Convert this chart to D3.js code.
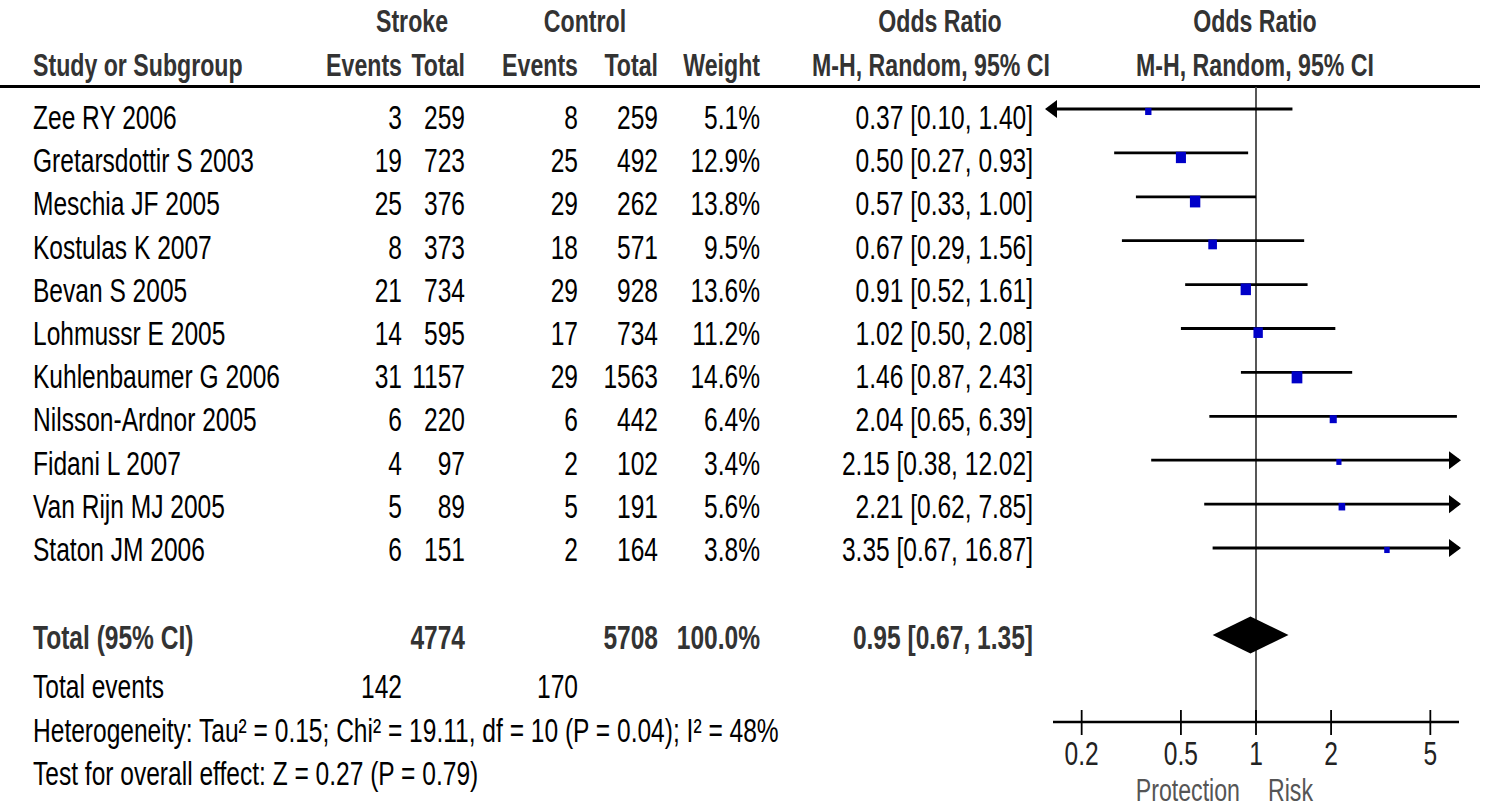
<!DOCTYPE html>
<html>
<head>
<meta charset="utf-8">
<script src="https://cdn.jsdelivr.net/npm/d3@7"></script>
<style>
  body { margin: 0; background: #fff; }
  svg { display: block; }
  text { font-family: "Liberation Sans Narrow", "Arial Narrow", "Liberation Sans", Arial, sans-serif; font-size: 29.7px; fill: #000; }
  .hdr { font-weight: bold; fill: #333; font-size: 28px; }
  .bold { font-weight: bold; fill: #333; }
  .tick { fill: #222; }
  .note { fill: #555; font-size: 28px; }
</style>
</head>
<body>
<div id="chart"></div>
<script>
// Study data
var studies = ["Zee RY 2006", "Gretarsdottir S 2003", "Meschia JF 2005", "Kostulas K 2007", "Bevan S 2005",
               "Lohmussr E 2005", "Kuhlenbaumer G 2006", "Nilsson-Ardnor 2005", "Fidani L 2007",
               "Van Rijn MJ 2005", "Staton JM 2006"];
var strokeEvents  = [3, 19, 25, 8, 21, 14, 31, 6, 4, 5, 6];
var strokeTotal   = [259, 723, 376, 373, 734, 595, 1157, 220, 97, 89, 151];
var controlEvents = [8, 25, 29, 18, 29, 17, 29, 6, 2, 5, 2];
var controlTotal  = [259, 492, 262, 571, 928, 734, 1563, 442, 102, 191, 164];
var weights       = [5.1, 12.9, 13.8, 9.5, 13.6, 11.2, 14.6, 6.4, 3.4, 5.6, 3.8];
var oddsRatio     = [0.37, 0.50, 0.57, 0.67, 0.91, 1.02, 1.46, 2.04, 2.15, 2.21, 3.35];
var ciLow         = [0.10, 0.27, 0.33, 0.29, 0.52, 0.50, 0.87, 0.65, 0.38, 0.62, 0.67];
var ciHigh        = [1.40, 0.93, 1.00, 1.56, 1.61, 2.08, 2.43, 6.39, 12.02, 7.85, 16.87];

// Pooled result
var totalStroke = 4774, totalControl = 5708, totalWeight = 100.0;
var pooled = [0.95, 0.67, 1.35];
var eventsStroke = 142, eventsControl = 170;
var heterogeneityText = "Heterogeneity: Tau\u00b2 = 0.15; Chi\u00b2 = 19.11, df = 10 (P = 0.04); I\u00b2 = 48%";
var overallText = "Test for overall effect: Z = 0.27 (P = 0.79)";

var tickValues = [0.2, 0.5, 1, 2, 5];

// the picture is stretched a bit vertically, so draw in a squashed viewBox
var SY = 1.13;
var width = 1487, height = 807;
function Y(v) { return v / SY; }

var svg = d3.select("#chart").append("svg")
    .attr("width", width)
    .attr("height", height)
    .attr("viewBox", "0 0 " + width + " " + (height / SY))
    .attr("preserveAspectRatio", "none");

// measure the font so text widths match the narrow original
var probe = svg.append("text").text("Gretarsdottir S 2003");
var FX = 221 / probe.node().getComputedTextLength();
probe.remove();

function txt(g, x, y, s, anchor, cls) {
    return g.append("text")
        .attr("transform", "translate(" + x + "," + y + ") scale(" + FX + ",1)")
        .attr("text-anchor", anchor || "start")
        .attr("class", cls || null)
        .text(s);
}

var f2 = d3.format(".2f");
var f1 = d3.format(".1f");
function ciText(o, l, h) { return f2(o) + " [" + f2(l) + ", " + f2(h) + "]"; }

// scales
var x = d3.scaleLog().domain([1 / 6.515, 6.515]).range([1053, 1459]);
var row = d3.scaleLinear().domain([0, studies.length - 1]).range([Y(109), Y(548)]);
var rowText = d3.scaleLinear().domain([0, studies.length - 1]).range([Y(129), Y(561)]);

// header
var hdr = svg.append("g");
txt(hdr, 412, Y(32), "Stroke", "middle", "hdr");
txt(hdr, 585, Y(32), "Control", "middle", "hdr");
txt(hdr, 940, Y(32), "Odds Ratio", "middle", "hdr");
txt(hdr, 1255, Y(32), "Odds Ratio", "middle", "hdr");
txt(hdr, 33, Y(76), "Study or Subgroup", "start", "hdr");
txt(hdr, 402, Y(76), "Events", "end", "hdr");
txt(hdr, 465, Y(76), "Total", "end", "hdr");
txt(hdr, 578, Y(76), "Events", "end", "hdr");
txt(hdr, 658, Y(76), "Total", "end", "hdr");
txt(hdr, 760, Y(76), "Weight", "end", "hdr");
txt(hdr, 931, Y(76), "M-H, Random, 95% CI", "middle", "hdr");
txt(hdr, 1255, Y(76), "M-H, Random, 95% CI", "middle", "hdr");

svg.append("line")
    .attr("x1", 0).attr("x2", 1480)
    .attr("y1", Y(86.5)).attr("y2", Y(86.5))
    .attr("stroke", "#000").attr("stroke-width", 2.6);

// line of no effect
svg.append("line")
    .attr("x1", x(1)).attr("x2", x(1))
    .attr("y1", Y(87)).attr("y2", Y(722))
    .attr("stroke", "#444").attr("stroke-width", 1.8);

// table rows
var rows = svg.append("g").selectAll("g")
    .data(studies)
    .enter().append("g");

rows.each(function(d, i) {
    var g = d3.select(this);
    var ty = rowText(i);
    txt(g, 33, ty, d, "start");
    txt(g, 402, ty, strokeEvents[i], "end");
    txt(g, 465, ty, strokeTotal[i], "end");
    txt(g, 578, ty, controlEvents[i], "end");
    txt(g, 658, ty, controlTotal[i], "end");
    txt(g, 760, ty, f1(weights[i]) + "%", "end");
    txt(g, 1033, ty, ciText(oddsRatio[i], ciLow[i], ciHigh[i]), "end");
});

// confidence intervals, clipped to the axis with arrows
var lo = x.domain()[0], hi = x.domain()[1];
var ci = svg.append("g");
studies.forEach(function(d, i) {
    var y = row(i);
    var a = x(Math.max(ciLow[i], lo)), b = x(Math.min(ciHigh[i], hi));
    ci.append("line")
        .attr("x1", a).attr("x2", b)
        .attr("y1", y).attr("y2", y)
        .attr("stroke", "#000").attr("stroke-width", 2.5);
    if (ciLow[i] < lo) {
        ci.append("path")
            .attr("d", "M" + (a - 8) + "," + y + "L" + (a + 4) + "," + (y - 8) + "L" + (a + 4) + "," + (y + 8) + "Z")
            .attr("fill", "#000");
    }
    if (ciHigh[i] > hi) {
        ci.append("path")
            .attr("d", "M" + (b + 2) + "," + y + "L" + (b - 10) + "," + (y - 8) + "L" + (b - 10) + "," + (y + 8) + "Z")
            .attr("fill", "#000");
    }
});

// weight squares
var side = function(i) { return 2.8 * Math.sqrt(weights[i]); };
svg.append("g").selectAll("rect")
    .data(studies)
    .enter().append("rect")
    .attr("width", function(d, i) { return side(i); })
    .attr("height", function(d, i) { return side(i); })
    .attr("x", function(d, i) { return x(oddsRatio[i]) - side(i) / 2; })
    .attr("y", function(d, i) { return row(i) - 1; })
    .attr("fill", "#0000c8");

// totals
var tot = svg.append("g");
txt(tot, 33, Y(649), "Total (95% CI)", "start", "bold");
txt(tot, 465, Y(649), totalStroke, "end", "bold");
txt(tot, 658, Y(649), totalControl, "end", "bold");
txt(tot, 760, Y(649), f1(totalWeight) + "%", "end", "bold");
txt(tot, 1033, Y(649), ciText(pooled[0], pooled[1], pooled[2]), "end", "bold");

var dy = Y(635), dh = Y(18.5);
svg.append("path")
    .attr("d", "M" + x(pooled[1]) + "," + dy + "L" + x(pooled[0]) + "," + (dy - dh) +
               "L" + x(pooled[2]) + "," + dy + "L" + x(pooled[0]) + "," + (dy + dh) + "Z")
    .attr("fill", "#000");

txt(tot, 33, Y(698), "Total events", "start");
txt(tot, 402, Y(698), eventsStroke, "end");
txt(tot, 578, Y(698), eventsControl, "end");
txt(tot, 33, Y(742), heterogeneityText, "start");
txt(tot, 33, Y(785), overallText, "start");

// axis
var ax = svg.append("g");
ax.append("line")
    .attr("x1", x.range()[0]).attr("x2", x.range()[1])
    .attr("y1", Y(722)).attr("y2", Y(722))
    .attr("stroke", "#000").attr("stroke-width", 2.4);
tickValues.forEach(function(t) {
    ax.append("line")
        .attr("x1", x(t)).attr("x2", x(t))
        .attr("y1", Y(710)).attr("y2", Y(735))
        .attr("stroke", "#000").attr("stroke-width", 1.8);
    txt(ax, x(t), Y(765), t, "middle", "tick");
});
txt(ax, x(1) - 16, Y(801), "Protection", "end", "note");
txt(ax, x(1) + 12, Y(801), "Risk", "start", "note");
</script>
</body>
</html>
